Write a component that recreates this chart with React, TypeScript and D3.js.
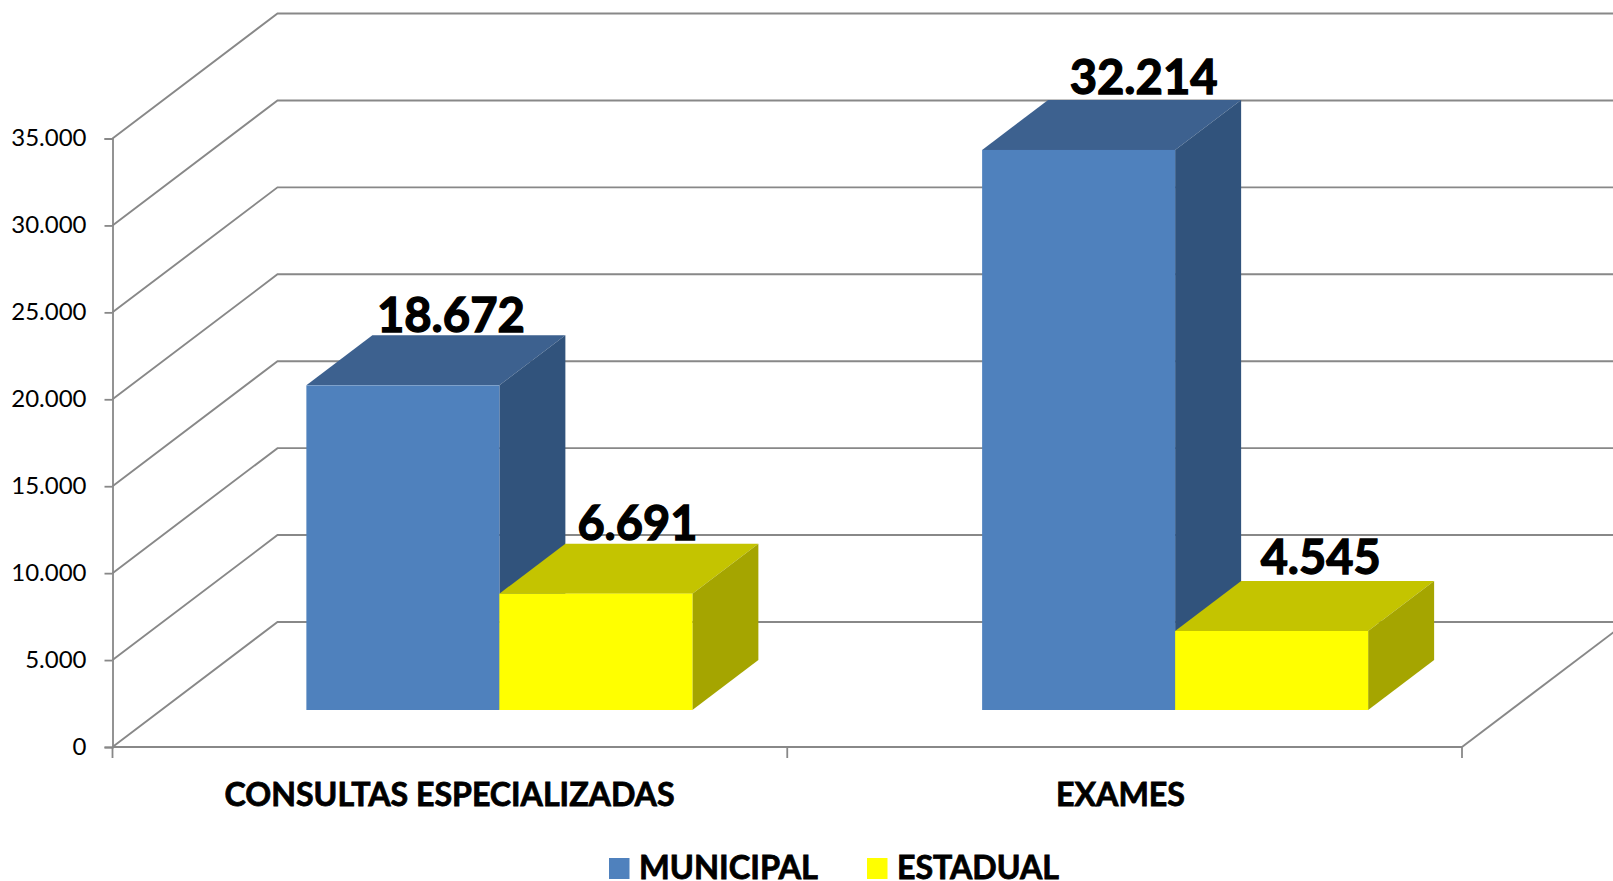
import { useEffect, useRef } from "react";
import * as d3 from "d3";

const categories = ["CONSULTAS ESPECIALIZADAS", "EXAMES"];
const municipal = [18672, 32214];
const estadual = [6691, 4545];
const yTicks = [0, 5000, 10000, 15000, 20000, 25000, 30000, 35000];
const seriesNames = ["MUNICIPAL", "ESTADUAL"];

const WIDTH = 1613;
const HEIGHT = 881;
const FONT = "Lato, Carlito, sans-serif";

const App = () => {
    const svgRef = useRef<SVGSVGElement>(null);

    useEffect(() => {
        const svg = d3.select(svgRef.current);
        svg.selectAll("*").remove();

        const left = 112.5;
        const right = 1462;
        const y0 = 747;
        const y35 = 138.5;
        // wall depth and bar depth of the fake 3d box
        const wallDx = 165;
        const wallDy = 125;
        const barDx = 66;
        const barDy = 50;
        const floorDy = 37;
        const barW = 193;
        const groupShift = [49.5, 50.5];
        const gridColor = "#888888";

        const fmt = d3.formatLocale({ decimal: ",", thousands: ".", grouping: [3], currency: ["", ""] }).format(",d");

        const xScale = d3.scaleBand().domain(categories).range([left, right]);
        const yScale = d3.scaleLinear().domain([0, 35000]).range([y0, y35]);
        const barY = (v: number) => yScale(v) - floorDy;
        const groupMid = (i: number) => (xScale(categories[i]) as number) + xScale.bandwidth() / 2 + groupShift[i];

        // Walls
        const walls = svg.append("g").attr("fill", "none").attr("stroke", gridColor).attr("stroke-width", 1.9);
        yTicks.forEach((t) => {
            const y = yScale(t);
            walls.append("path").attr("d", `M${left},${y}L${left + wallDx},${y - wallDy}L${WIDTH},${y - wallDy}`);
        });
        walls.append("path").attr("d", `M${right},${y0}L${right + wallDx},${y0 - wallDy}`);

        // Y Axis
        const yAxis = d3.axisLeft(yScale).tickValues(yTicks).tickFormat((d) => fmt(d as number)).tickSize(8).tickPadding(18);
        const yG = svg.append("g").attr("transform", `translate(${left}, 0)`).call(yAxis);
        yG.selectAll("line").attr("stroke", gridColor).attr("stroke-width", 1.8);
        yG.select(".domain").attr("stroke", gridColor).attr("stroke-width", 1.8);
        yG.selectAll("text").attr("font-family", FONT).attr("font-size", 24).attr("fill", "#000").attr("dy", "0.3em");

        // X Axis
        svg.append("path").attr("d", `M${left},${y0}H${right}`).attr("stroke", gridColor).attr("stroke-width", 2);
        d3.range(0, categories.length + 1).forEach((i) => {
            const x = left + i * xScale.bandwidth();
            svg.append("line").attr("x1", x).attr("x2", x).attr("y1", y0).attr("y2", y0 + 11).attr("stroke", gridColor).attr("stroke-width", 1.8);
        });

        // Bars
        const box = (x: number, v: number, front: string, top: string, side: string) => {
            const yTop = barY(v);
            const yBase = barY(0);
            const g = svg.append("g");
            g.append("path").attr("fill", top)
                .attr("d", `M${x},${yTop}l${barDx},${-barDy}h${barW}l${-barDx},${barDy}z`);
            g.append("path").attr("fill", side)
                .attr("d", `M${x + barW},${yTop}l${barDx},${-barDy}V${yBase - barDy}l${-barDx},${barDy}z`);
            g.append("rect").attr("x", x).attr("y", yTop).attr("width", barW).attr("height", yBase - yTop).attr("fill", front);
        };

        categories.forEach((_, i) => {
            box(groupMid(i) - barW, municipal[i], "#4f81bd", "#3d618f", "#31537c");
            box(groupMid(i), estadual[i], "#ffff00", "#c4c400", "#a5a500");
        });

        // bold text is heavier in the original, the stroke makes up for it
        const label = (x: number, y: number, text: string, size: number, len: number, heavy: number) => {
            svg.append("text")
                .attr("x", x).attr("y", y)
                .attr("text-anchor", "middle")
                .attr("font-family", FONT)
                .attr("font-size", size)
                .attr("font-weight", 700)
                .attr("stroke", "#000")
                .attr("stroke-width", heavy)
                .attr("textLength", len)
                .attr("lengthAdjust", "spacingAndGlyphs")
                .text(text);
        };

        // Data labels, moved by hand in the original
        const labelDx = [[48, 41.5], [65, 49]];
        const labelDy = [53, 54, 55.5, 57];
        categories.forEach((_, i) => {
            const mid = groupMid(i);
            label(mid - barW / 2 + labelDx[i][0], barY(municipal[i]) - labelDy[i * 2], fmt(municipal[i]), 47, 148, 1.3);
            label(mid + barW / 2 + labelDx[i][1], barY(estadual[i]) - labelDy[i * 2 + 1], fmt(estadual[i]), 47, 120, 1.3);
        });

        // Category labels
        label(449.5, 806, categories[0], 32, 450, 0.8);
        label(1120.5, 806, categories[1], 32, 129, 0.8);

        // Legend
        const legendColors = ["#4f81bd", "#ffff00"];
        const legendX = [609, 867];
        const legendLen = [179, 162];
        seriesNames.forEach((name, i) => {
            svg.append("rect").attr("x", legendX[i]).attr("y", 858).attr("width", 20.5).attr("height", 21).attr("fill", legendColors[i]);
            label(legendX[i] + 30 + legendLen[i] / 2, 878.5, name, 32, legendLen[i], 0.8);
        });
    }, []);

    return (
        <svg
            ref={svgRef}
            width={WIDTH}
            height={HEIGHT}
            viewBox={`0 0 ${WIDTH} ${HEIGHT}`}
            style={{ position: "absolute", left: 0, top: 0, background: "#fff" }}
        ></svg>
    );
};

export default App;
